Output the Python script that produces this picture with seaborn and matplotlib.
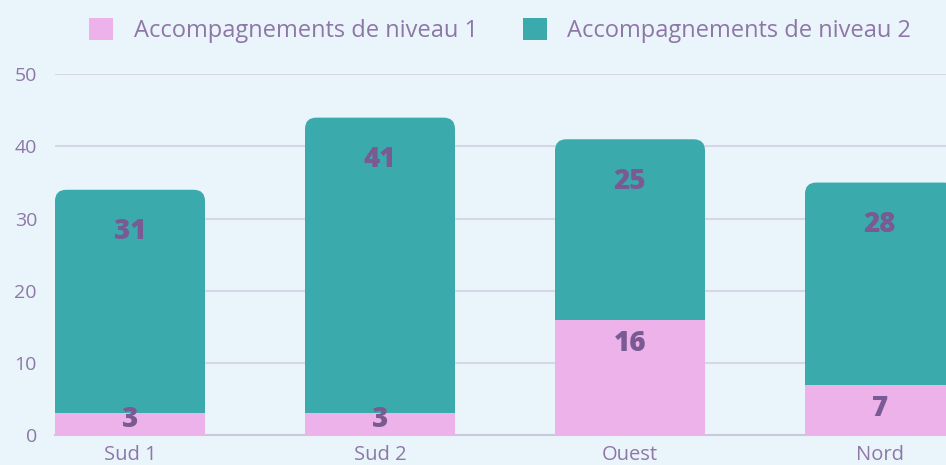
import matplotlib
matplotlib.use("Agg")
import matplotlib.pyplot as plt
import seaborn as sns
import pandas as pd
from matplotlib.patches import FancyBboxPatch, Patch

# données
regions = ["Sud 1", "Sud 2", "Ouest", "Nord"]
niveau_1 = [3, 3, 16, 7]
niveau_2 = [31, 41, 25, 28]
y_ticks = [0, 10, 20, 30, 40, 50]
legend_labels = ["Accompagnements de niveau 1", "Accompagnements de niveau 2"]

bg = "#EAF5FB"
pink = "#EEB2EA"
teal = "#3AAAAD"
txt = "#8E77A6"
lbl = "#7A5A93"
grid = "#D6D6E6"

sns.set_theme(style="white")
plt.rcParams["font.family"] = ["Open Sans", "DejaVu Sans"]

df = pd.DataFrame({"region": regions, "n1": niveau_1, "n2": niveau_2})
df["total"] = df["n1"] + df["n2"]

fig = plt.figure(figsize=(9.46, 4.65), dpi=100, facecolor=bg)
ax = fig.add_axes([55 / 946, 30 / 465, 1 - 55 / 946, 361 / 465])
ax.set_facecolor(bg)

# barres totales (niveau 2 visible au-dessus du niveau 1)
sns.barplot(data=df, x="region", y="total", order=regions, color=teal,
            width=0.6, saturation=1, linewidth=0, ax=ax, zorder=2)
n_teal = len(ax.patches)

xlim = (-0.3, 3.264)
ylim = (0, 50.05)
ax_w = fig.get_figwidth() * fig.dpi * (1 - 55 / 946)
ax_h = fig.get_figheight() * fig.dpi * 361 / 465
aspect = ((ylim[1] - ylim[0]) / ax_h) / ((xlim[1] - xlim[0]) / ax_w)

# coins arrondis en haut
for p in list(ax.patches)[:n_teal]:
    x0, y0, w, h = p.get_x(), p.get_y(), p.get_width(), p.get_height()
    p.remove()
    ax.add_patch(FancyBboxPatch((x0, y0), w, h,
                                boxstyle="round,pad=0,rounding_size=0.045",
                                mutation_aspect=aspect, facecolor=teal,
                                edgecolor="none", zorder=2))

sns.barplot(data=df, x="region", y="n1", order=regions, color=pink,
            width=0.6, saturation=1, linewidth=0, ax=ax, zorder=3)

ax.set_xlim(*xlim)
ax.set_ylim(*ylim)
ax.set_yticks(y_ticks)
ax.set_xlabel("")
ax.set_ylabel("")
ax.yaxis.grid(True, color=grid, linewidth=1.5, zorder=0)
ax.set_axisbelow(True)
for s in ["top", "right", "left"]:
    ax.spines[s].set_visible(False)
ax.spines["bottom"].set_color("#C9C9DB")
ax.spines["bottom"].set_linewidth(1.5)
ax.tick_params(axis="y", length=0, pad=13, labelsize=14, labelcolor=txt)
ax.tick_params(axis="x", length=0, pad=7, labelsize=14.5, labelcolor=txt)

# étiquettes de valeurs
for i, r in df.iterrows():
    ax.text(i, r["total"] - 5.8, str(r["n2"]), ha="center", va="center",
            fontsize=20, fontweight="heavy", color=lbl, zorder=5)
    ax.text(i, max(r["n1"] - 3.3, 2.1), str(r["n1"]), ha="center", va="center",
            fontsize=20, fontweight="heavy", color=lbl, zorder=5)

handles = [Patch(facecolor=pink, edgecolor="none"), Patch(facecolor=teal, edgecolor="none")]
fig.legend(handles, legend_labels, loc="center", bbox_to_anchor=(0.5285, 0.935),
           ncol=2, frameon=False, fontsize=17, labelcolor=txt,
           handlelength=1.05, handleheight=1.05, handletextpad=0.85, columnspacing=1.9)

fig.savefig("out.png", dpi=100, facecolor=bg)
